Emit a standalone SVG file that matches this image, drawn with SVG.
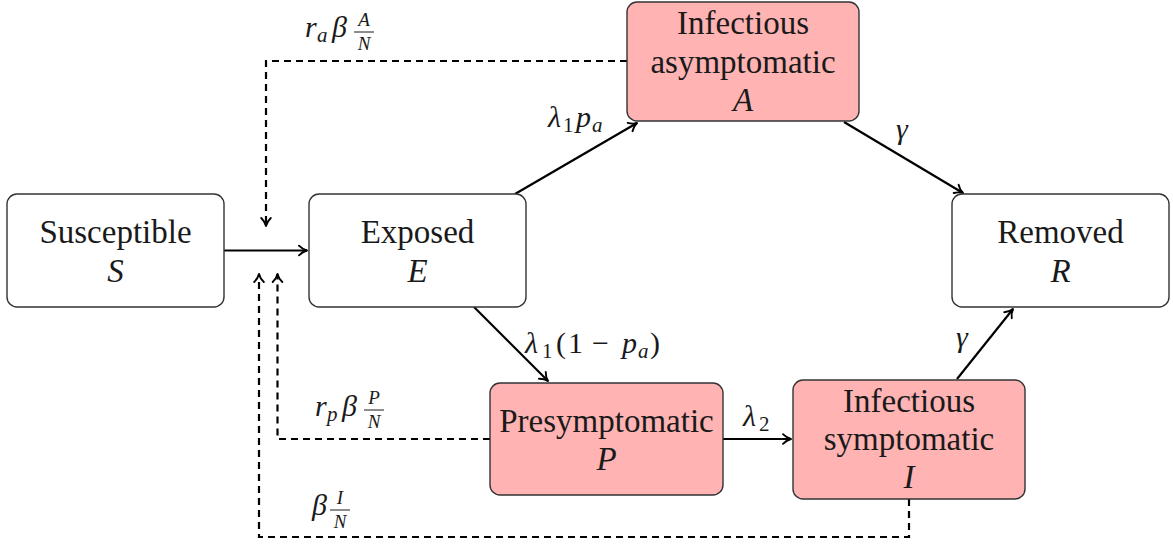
<svg xmlns="http://www.w3.org/2000/svg" width="1173" height="545" viewBox="0 0 1173 545">
<style>
text{font-family:"Liberation Serif","DejaVu Serif","Noto Serif","Times New Roman",serif;fill:#1a1a1a}
.box{fill:#ffffff;stroke:#333333;stroke-width:1.4}
.inf{fill:#ffb3b3}
.t{font-size:33px;text-anchor:middle}
.it{font-style:italic}
.m{font-size:30px}
.mi{font-style:italic}
.sub{font-size:21px}
.fr{font-size:19px;font-style:italic;text-anchor:middle}
.bar{stroke:#1a1a1a;stroke-width:1}
.arr{stroke:#000;stroke-width:2.2;fill:none;marker-end:url(#ah)}
.dash{stroke:#000;stroke-width:2.2;fill:none;stroke-dasharray:7 5;marker-end:url(#ah)}
</style>
<defs>
<marker id="ah" markerUnits="userSpaceOnUse" viewBox="-9 -6 11 12" refX="0" refY="0" markerWidth="11" markerHeight="12" orient="auto" overflow="visible">
<path d="M-8,-4.8 C-5.5,-2.2 -2.5,-0.6 0,0 C-2.5,0.6 -5.5,2.2 -8,4.8" fill="none" stroke="#000" stroke-width="1.9" stroke-linecap="round" stroke-linejoin="round"/>
</marker>
</defs>

<g id="connectors">
<line class="arr" x1="224" y1="250.5" x2="307" y2="250.5"/>
<line class="arr" x1="515" y1="194" x2="637" y2="123"/>
<line class="arr" x1="474" y1="307" x2="548" y2="381"/>
<line class="arr" x1="723" y1="439" x2="791" y2="439"/>
<line class="arr" x1="844" y1="122" x2="963" y2="193"/>
<line class="arr" x1="957" y1="379" x2="1013" y2="309"/>
<path class="dash" d="M627,61 H266 V226"/>
<path class="dash" d="M490,439 H277.5 V274"/>
<path class="dash" d="M909,499 V537 H259 V274"/>
</g>

<g id="node-S">
<rect class="box" x="7" y="194" width="217" height="113" rx="10"/>
<text class="t" x="115.5" y="243">Susceptible</text>
<text class="t it" x="115.5" y="282">S</text>
</g>
<g id="node-E">
<rect class="box" x="309" y="194" width="217" height="113" rx="10"/>
<text class="t" x="417.5" y="243">Exposed</text>
<text class="t it" x="417.5" y="282">E</text>
</g>
<g id="node-A">
<rect class="box inf" x="627" y="2" width="232" height="119" rx="10"/>
<text class="t" x="743" y="34">Infectious</text>
<text class="t" x="743" y="73">asymptomatic</text>
<text class="t it" x="743" y="111">A</text>
</g>
<g id="node-R">
<rect class="box" x="952" y="194" width="217" height="113" rx="10"/>
<text class="t" x="1060.5" y="243">Removed</text>
<text class="t it" x="1060.5" y="282">R</text>
</g>
<g id="node-P">
<rect class="box inf" x="490" y="383" width="233" height="112" rx="10"/>
<text class="t" x="606.5" y="432">Presymptomatic</text>
<text class="t it" x="606.5" y="470">P</text>
</g>
<g id="node-I">
<rect class="box inf" x="793" y="380" width="232" height="119" rx="10"/>
<text class="t" x="909" y="412">Infectious</text>
<text class="t" x="909" y="450">symptomatic</text>
<text class="t it" x="909" y="488">I</text>
</g>

<g id="labels">
<text class="m" y="37"><tspan class="mi" x="305">r</tspan><tspan class="sub mi" x="317" dy="5">a</tspan><tspan class="mi" x="332" dy="-5">β</tspan></text>
<text class="fr" x="364" y="26">A</text>
<line class="bar" x1="354" y1="32" x2="374" y2="32"/>
<text class="fr" x="364" y="50">N</text>

<text class="m" y="127"><tspan class="mi" x="548">λ</tspan><tspan class="sub" x="563" dy="5">1</tspan><tspan class="mi" x="576" dy="-5">p</tspan><tspan class="sub mi" x="592" dy="5">a</tspan></text>

<text class="m mi" x="896" y="139">γ</text>

<text class="m" y="353"><tspan class="mi" x="525">λ</tspan><tspan class="sub" x="542" dy="5">1</tspan><tspan x="556" dy="-5">(</tspan><tspan x="568">1</tspan><tspan x="592">−</tspan><tspan class="mi" x="622">p</tspan><tspan class="sub mi" x="638" dy="5">a</tspan><tspan x="650" dy="-5">)</tspan></text>

<text class="m" y="426"><tspan class="mi" x="743">λ</tspan><tspan class="sub" x="759" dy="5">2</tspan></text>

<text class="m mi" x="956" y="347">γ</text>

<text class="m" y="416"><tspan class="mi" x="315">r</tspan><tspan class="sub mi" x="327" dy="5">p</tspan><tspan class="mi" x="342" dy="-5">β</tspan></text>
<text class="fr" x="374" y="404">P</text>
<line class="bar" x1="364" y1="410" x2="384" y2="410"/>
<text class="fr" x="374" y="428">N</text>

<text class="m mi" x="312" y="515">β</text>
<text class="fr" x="340" y="504">I</text>
<line class="bar" x1="330" y1="510" x2="350" y2="510"/>
<text class="fr" x="340" y="528">N</text>
</g>
</svg>
